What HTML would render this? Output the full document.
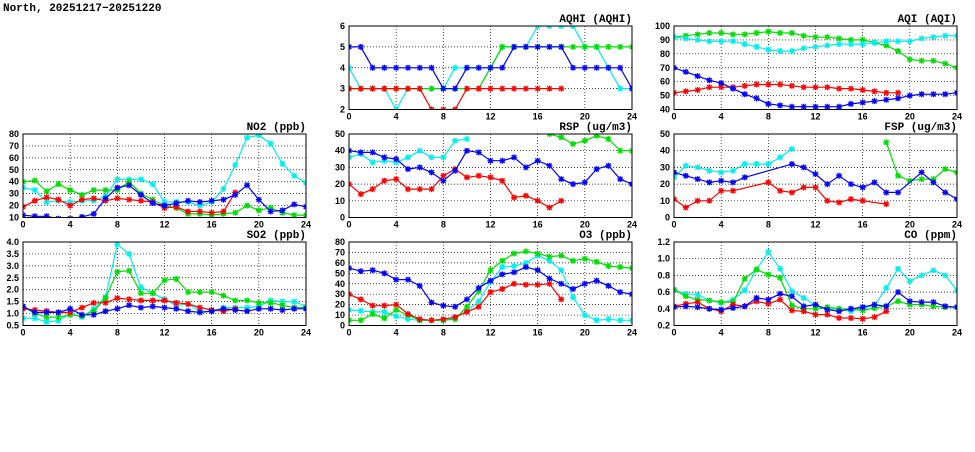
<!DOCTYPE html>
<html><head><meta charset="utf-8">
<style>
body{margin:0;background:#fff;width:975px;height:447px;overflow:hidden}
svg text{font-family:"Liberation Sans",sans-serif;font-weight:bold;font-size:9px;fill:#000}
svg text.pt{font-family:"Liberation Mono",monospace;font-size:11px}
</style></head>
<body>
<svg id="chart" width="975" height="447" xmlns="http://www.w3.org/2000/svg">
<text x="3" y="11" style="font-family:'Liberation Mono',monospace;font-size:11px">North, 20251217−20251220</text>
</svg>
<script>
var N=null;
var hours=[0,1,2,3,4,5,6,7,8,9,10,11,12,13,14,15,16,17,18,19,20,21,22,23,24];
var xTicks=[0,4,8,12,16,20,24];
// AQHI
var aqhiBlue=[5,5,4,4,4,4,4,4,3,3,4,4,4,4,5,5,5,5,5,4,4,4,4,4,3];
var aqhiCyan=[4,3,3,3,2,3,3,3,3,4,4,4,4,5,5,5,6,6,6,6,5,5,4,3,3];
var aqhiGreen=[3,3,3,3,3,3,3,3,3,3,3,3,4,5,5,5,5,5,5,5,5,5,5,5,5];
var aqhiRed=[3,3,3,3,3,3,3,2,2,2,3,3,3,3,3,3,3,3,3,N,N,N,N,N,N];
var aqhiTicks=[2,3,4,5,6];
// AQI
var aqiGreen=[92,93,94,95,95,94,94,95,96,95,95,93,92,92,91,90,90,88,86,82,76,75,75,73,70];
var aqiCyan=[92,91,90,89,89,89,87,85,83,82,82,84,85,86,87,87,87,88,89,89,89,91,92,93,93];
var aqiBlue=[70,67,64,61,59,55,51,48,44,43,42,42,42,42,42,44,45,46,47,48,50,51,51,51,52];
var aqiRed=[52,53,54,56,56,56,57,58,58,58,57,56,56,56,55,55,54,53,52,52,N,N,N,N,N];
var aqiTicks=[40,50,60,70,80,90,100];
// NO2
var no2Cyan=[35,33,23,24,23,24,24,28,42,42,42,38,23,23,23,20,23,34,54,77,79,72,55,45,39];
var no2Green=[40,41,32,38,33,29,33,33,33,40,30,25,20,18,13,13,12,13,14,20,16,18,14,12,12];
var no2Red=[19,24,27,25,20,25,26,24,26,25,24,23,18,19,15,15,14,15,31,N,N,N,N,N,N];
var no2Blue=[12,11,11,9,9,10.5,13,26,35,37,29,22,20,22,24,23,24,25,29,37,25,15,16,21,19];
var no2Ticks=[10,20,30,40,50,60,70,80];
// RSP
var rspBlue=[40,39,39,36,35,29,30,27,22,28,40,39,34,34,36,30,34,31,23,20,21,29,31,23,20];
var rspCyan=[36,38,33,34,33,36,40,36,36,46,47,N,N,N,N,N,N,N,N,N,N,N,N,N,N];
var rspRed=[20,14,17,22,23,17,17,17,25,29,24,25,24,22,12,13,10,6,10,N,N,N,N,N,N];
var rspGreen=[N,N,N,N,N,N,N,N,N,N,N,N,N,N,N,N,53,50,48,44,46,49,47,40,40];
var rspTicks=[0,10,20,30,40,50];
// FSP
var fspBlue=[27,25,23,21,22,21,24,N,N,N,32,30,26,20,25,20,18,21,15,15,N,27,21,15,11];
var fspCyan=[24,31,30,28,27,28,32,32,32,36,41,N,N,N,N,N,N,N,N,N,N,N,N,N,N];
var fspRed=[11,6,10,10,16,16,N,N,21,16,15,18,18,10,9,11,10,N,8,N,N,N,N,N,N];
var fspGreen=[N,N,N,N,N,N,N,N,N,N,N,N,N,N,N,N,N,N,45,25,22,23,23,29,27];
var fspTicks=[0,10,20,30,40,50];
// SO2
var so2Cyan=[0.8,0.8,0.65,0.7,1.0,0.85,1.2,1.7,3.9,3.5,2.1,1.85,1.6,1.35,1.4,1.1,1.1,1.25,1.25,1.25,1.3,1.55,1.5,1.5,1.3];
var so2Green=[1.3,1.0,0.85,0.85,0.95,0.9,1.1,1.65,2.75,2.8,1.85,1.85,2.4,2.45,1.9,1.9,1.9,1.75,1.55,1.55,1.45,1.45,1.35,1.25,1.25];
var so2Red=[1.2,1.15,1.1,1.05,1.05,1.25,1.45,1.45,1.65,1.6,1.55,1.55,1.55,1.45,1.4,1.25,1.15,1.1,1.2,N,N,N,N,N,N];
var so2Blue=[1.3,1.05,1.05,1.05,1.2,0.95,0.95,1.1,1.2,1.35,1.25,1.3,1.25,1.2,1.1,1.05,1.1,1.2,1.15,1.1,1.2,1.2,1.15,1.2,1.2];
var so2Ticks=[0.5,1.0,1.5,2.0,2.5,3.0,3.5,4.0];
// O3
var o3Blue=[55,52,53,50,44,44,38,22,19,18,25,36,43,49,51,56,53,45,40,35,40,43,38,32,30];
var o3Green=[5,5,11,7,15,10,5,5,5,6,18,33,53,62,69,71,69,66,67,62,64,61,57,56,55];
var o3Cyan=[15,14,13,13,9,6,5,5,5,7,14,23,42,56,57,60,67,62,53,27,10,5,6,5,5];
var o3Red=[30,25,19,19,20,11,6,5,6,8,13,18,32,35,40,39,39,40,25,N,N,N,N,N,N];
var o3Ticks=[0,10,20,30,40,50,60,70,80];
// CO
var coCyan=[0.62,0.58,0.57,0.50,0.47,0.51,0.62,0.87,1.08,0.88,0.61,0.53,0.44,0.39,0.40,0.37,0.41,0.44,0.65,0.88,0.73,0.80,0.86,0.80,0.62];
var coGreen=[0.63,0.55,0.51,0.50,0.48,0.48,0.76,0.87,0.81,0.77,0.44,0.40,0.40,0.42,0.40,0.40,0.38,0.41,0.43,0.49,0.45,0.45,0.43,0.42,0.42];
var coBlue=[0.42,0.43,0.42,0.40,0.39,0.41,0.43,0.53,0.51,0.58,0.55,0.43,0.45,0.39,0.37,0.40,0.42,0.45,0.43,0.60,0.49,0.48,0.48,0.43,0.42];
var coRed=[0.43,0.46,0.48,0.40,0.37,0.45,0.43,0.49,0.46,0.51,0.38,0.37,0.33,0.33,0.29,0.29,0.28,0.30,0.37,N,N,N,N,N,N];
var coTicks=[0.2,0.4,0.6,0.8,1.0,1.2];

var RED='#ff0000',GRN='#00dd00',BLU='#0000ff',CYN='#00eeee';
var panels=[
 {id:'aqhi',title:'AQHI (AQHI)',col:1,row:0,ticks:aqhiTicks,dec:0,series:[[aqhiCyan,CYN],[aqhiGreen,GRN],[aqhiRed,RED],[aqhiBlue,BLU]]},
 {id:'aqi',title:'AQI (AQI)',col:2,row:0,ticks:aqiTicks,dec:0,series:[[aqiGreen,GRN],[aqiCyan,CYN],[aqiRed,RED],[aqiBlue,BLU]]},
 {id:'no2',title:'NO2 (ppb)',col:0,row:1,ticks:no2Ticks,dec:0,series:[[no2Cyan,CYN],[no2Green,GRN],[no2Red,RED],[no2Blue,BLU]]},
 {id:'rsp',title:'RSP (ug/m3)',col:1,row:1,ticks:rspTicks,dec:0,series:[[rspGreen,GRN],[rspCyan,CYN],[rspRed,RED],[rspBlue,BLU]]},
 {id:'fsp',title:'FSP (ug/m3)',col:2,row:1,ticks:fspTicks,dec:0,series:[[fspGreen,GRN],[fspCyan,CYN],[fspRed,RED],[fspBlue,BLU]]},
 {id:'so2',title:'SO2 (ppb)',col:0,row:2,ticks:so2Ticks,dec:1,series:[[so2Cyan,CYN],[so2Green,GRN],[so2Red,RED],[so2Blue,BLU]]},
 {id:'o3',title:'O3 (ppb)',col:1,row:2,ticks:o3Ticks,dec:0,series:[[o3Cyan,CYN],[o3Green,GRN],[o3Red,RED],[o3Blue,BLU]]},
 {id:'co',title:'CO (ppm)',col:2,row:2,ticks:coTicks,dec:1,series:[[coCyan,CYN],[coGreen,GRN],[coRed,RED],[coBlue,BLU]]}
];
var colX=[23,349,674],rowY=[26,134,242],PW=283,PH=83.5;
var svg=document.getElementById('chart'),NS='http://www.w3.org/2000/svg';
function mk(t,a,p){var e=document.createElementNS(NS,t);for(var k in a)e.setAttribute(k,a[k]);(p||svg).appendChild(e);return e;}
var defs=mk('defs',{});
panels.forEach(function(p){
 var x0=colX[p.col],y0=rowY[p.row],t=p.ticks,ymin=t[0],ymax=t[t.length-1];
 function sx(h){return x0+h/24*PW;}
 function sy(v){return y0+PH-(v-ymin)/(ymax-ymin)*PH;}
 var g=mk('g',{});
 
 
 var cp=mk('clipPath',{id:'c'+p.id},defs);mk('rect',{x:x0,y:y0,width:PW,height:PH},cp);
 var tt=mk('text',{x:x0+PW,y:y0-4,'text-anchor':'end','class':'pt'},g);tt.textContent=p.title;
 
 
 xTicks.forEach(function(h){
  var X=sx(h);
  if(h>0&&h<24)mk('line',{x1:X,y1:y0,x2:X,y2:y0+PH,stroke:'#000','stroke-width':0.7,'stroke-dasharray':'1,2'},g);
  var l=mk('text',{x:X,y:y0+PH+10,'text-anchor':'middle'},g);l.textContent=h;
  
  
 });
 t.forEach(function(v){
  var Y=sy(v);
  if(v>ymin&&v<ymax)mk('line',{x1:x0,y1:Y,x2:x0+PW,y2:Y,stroke:'#000','stroke-width':0.7,'stroke-dasharray':'1,2'},g);
  var l=mk('text',{x:x0-4,y:Y+3,'text-anchor':'end'},g);l.textContent=v.toFixed(p.dec);
  
  
 });
 var sg=mk('g',{'clip-path':'url(#c'+p.id+')'},g);
 p.series.forEach(function(s){
  var arr=s[0],col=s[1],pts=[];
  arr.forEach(function(v,i){if(v!==null)pts.push([sx(hours[i]),sy(v)]);});
  var pl=mk('polyline',{points:pts.map(function(q){return q[0].toFixed(1)+','+q[1].toFixed(1);}).join(' '),fill:'none',stroke:col,'stroke-width':1.2},sg);
  
  
  pts.forEach(function(q){
   var m=mk('path',{d:'M'+(q[0]-3)+' '+q[1]+'h6M'+q[0]+' '+(q[1]-3)+'v6M'+(q[0]-2.3)+' '+(q[1]-2.3)+'l4.6 4.6M'+(q[0]-2.3)+' '+(q[1]+2.3)+'l4.6 -4.6',stroke:col,'stroke-width':1.3,fill:'none'},sg);
   
   
  });
 });
 mk('rect',{x:x0,y:y0,width:PW,height:PH,fill:'none',stroke:'#000','stroke-width':1},g);
});
</script>
</body></html>
